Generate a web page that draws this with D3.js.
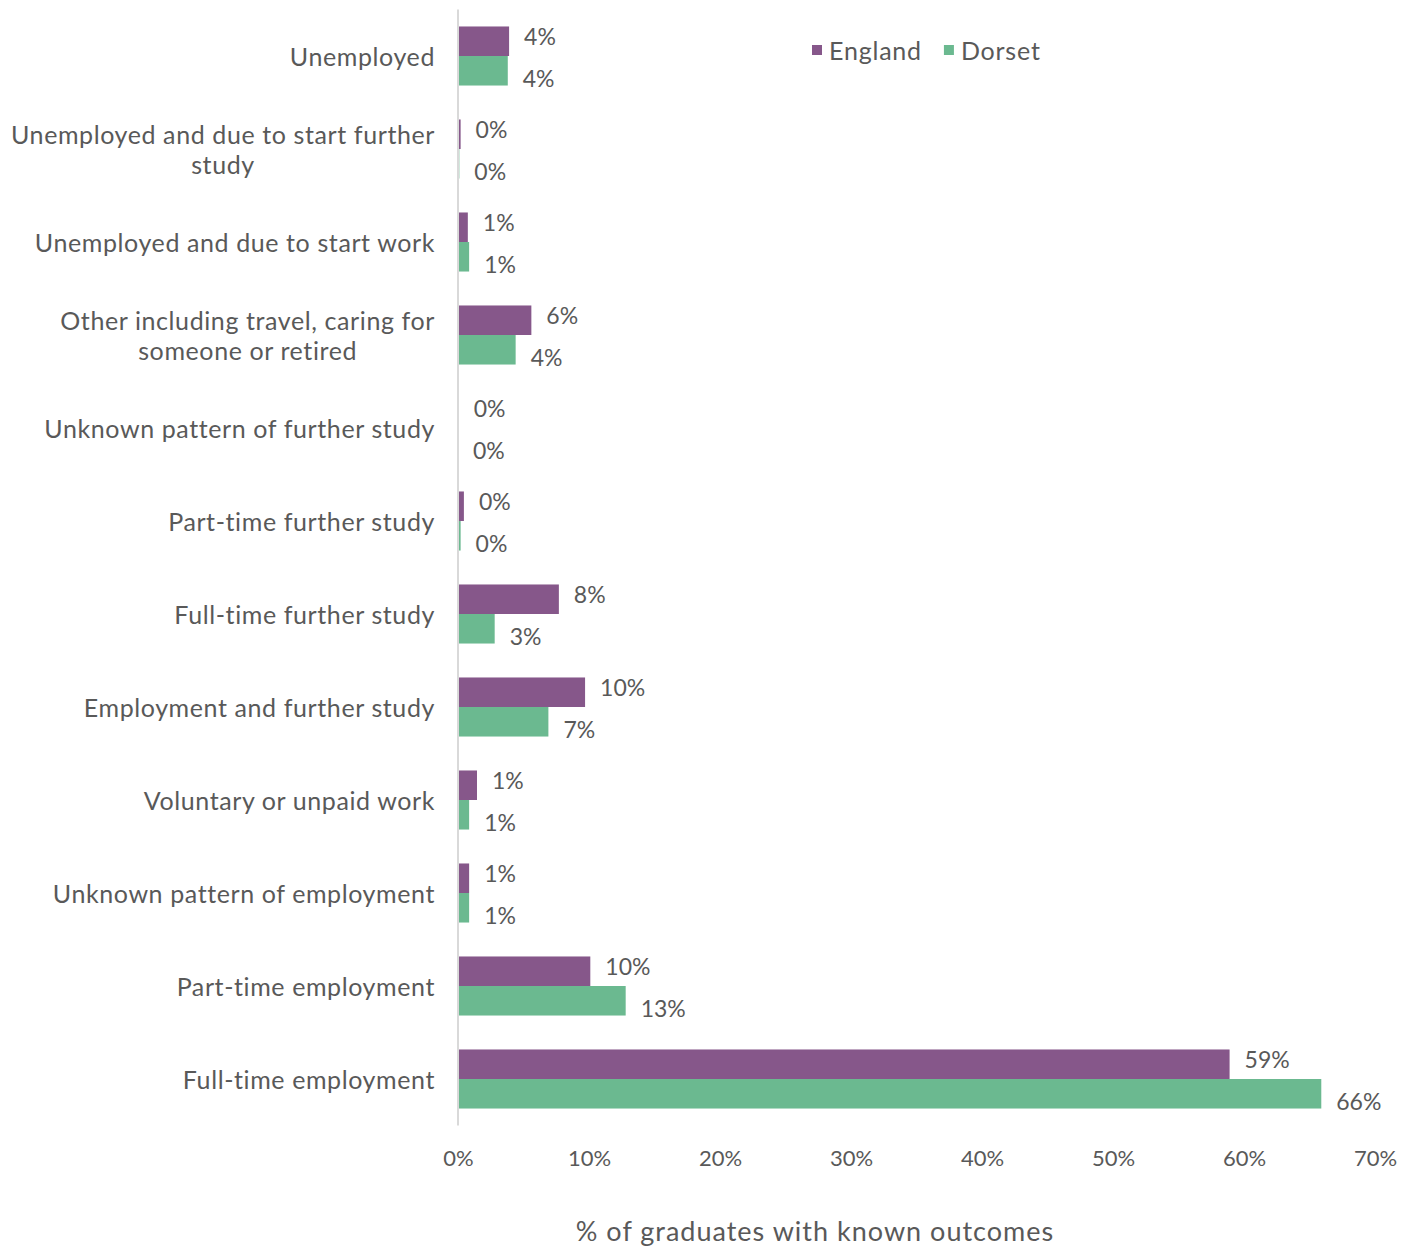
<!DOCTYPE html>
<html>
<head>
<meta charset="utf-8">
<script src="https://cdn.jsdelivr.net/npm/d3@7"></script>
<style>
  html, body { margin: 0; padding: 0; background: #fff; }
  svg text { font-family: "Lato", "DejaVu Sans", sans-serif; fill: #595959; }
</style>
</head>
<body>
<svg id="chart" width="1418" height="1248"></svg>
<script>
// Graduate destinations, % of graduates with known outcomes
const categories = [
  ["Unemployed"],
  ["Unemployed and due to start further", "study"],
  ["Unemployed and due to start work"],
  ["Other including travel, caring for", "someone or retired"],
  ["Unknown pattern of further study"],
  ["Part-time further study"],
  ["Full-time further study"],
  ["Employment and further study"],
  ["Voluntary or unpaid work"],
  ["Unknown pattern of employment"],
  ["Part-time employment"],
  ["Full-time employment"]
];
const seriesNames = ["England", "Dorset"];
const england = [3.9, 0.2, 0.75, 5.6, 0.05, 0.45, 7.7, 9.7, 1.45, 0.85, 10.1, 58.9];
const dorset  = [3.8, 0.1, 0.85, 4.4, 0.0, 0.2, 2.8, 6.9, 0.85, 0.85, 12.8, 65.9];
const xTicks = [0, 10, 20, 30, 40, 50, 60, 70];
const axisTitle = "% of graduates with known outcomes";

const colors = { England: "#86578A", Dorset: "#6BB990" };
const svg = d3.select("#chart");

const x = d3.scaleLinear().domain([0, 70]).range([458, 1375]);
const keys = categories.map((c, i) => i);
const y = d3.scaleBand().domain(keys).range([9.5, 1125.5])
  .paddingInner(0.365).paddingOuter(0.1825);
const ySub = d3.scaleBand().domain(seriesNames).range([0, y.bandwidth()]);

const rows = keys.map(i => ({ i, England: england[i], Dorset: dorset[i] }));

// bars
const groups = svg.append("g").selectAll("g").data(rows).join("g")
  .attr("transform", d => `translate(0,${y(d.i)})`);

groups.selectAll("rect").data(d => seriesNames.map(s => ({ s, v: d[s] })))
  .join("rect")
  .attr("x", x(0))
  .attr("y", d => ySub(d.s))
  .attr("width", d => x(d.v) - x(0))
  .attr("height", ySub.bandwidth())
  .attr("fill", d => colors[d.s]);

// value labels
const labelOffset = { England: -5, Dorset: 7 };
groups.selectAll("text.val").data(d => seriesNames.map(s => ({ s, v: d[s] })))
  .join("text")
  .attr("class", "val")
  .attr("x", d => x(d.v) + 15)
  .attr("y", d => ySub(d.s) + ySub.bandwidth() / 2 + labelOffset[d.s])
  .attr("dominant-baseline", "central")
  .style("font-size", "23px")
  .text(d => Math.round(d.v) + "%");

// vertical category axis line
svg.append("line")
  .attr("x1", x(0)).attr("x2", x(0))
  .attr("y1", 9.5).attr("y2", 1125.5)
  .attr("stroke", "#d9d9d9").attr("stroke-width", 2);

// category labels (multi-line, centred lines, right-aligned block)
const catG = svg.append("g");
rows.forEach(d => {
  const lines = categories[d.i];
  const cy = y(d.i) + y.bandwidth() / 2;
  const lineH = 30;
  const g = catG.append("g");
  const texts = lines.map((t, k) => g.append("text")
    .attr("y", cy + (k - (lines.length - 1) / 2) * lineH)
    .attr("dominant-baseline", "central")
    .attr("text-anchor", "middle")
    .style("font-size", "25px")
    .style("letter-spacing", "0.6px")
    .text(t));
  const maxW = d3.max(texts, t => t.node().getComputedTextLength());
  texts.forEach(t => t.attr("x", 435 - maxW / 2));
});

// x axis tick labels
const xAxis = d3.axisBottom(x).tickValues(xTicks).tickSize(0).tickPadding(0)
  .tickFormat(d => d + "%");
const xg = svg.append("g").attr("transform", "translate(0,1157)").call(xAxis);
xg.select(".domain").remove();
xg.selectAll("text")
  .attr("dy", null)
  .attr("dominant-baseline", "central")
  .style("font-size", "22px")
  .style("font-family", null)
  .attr("fill", null);

// axis title
svg.append("text")
  .attr("x", 815).attr("y", 1230)
  .attr("text-anchor", "middle")
  .attr("dominant-baseline", "central")
  .style("font-size", "27px")
  .style("letter-spacing", "1px")
  .text(axisTitle);

// legend
const legend = svg.append("g").attr("transform", "translate(812,50)");
let lx = 0;
seriesNames.forEach(s => {
  const g = legend.append("g").attr("transform", `translate(${lx},0)`);
  g.append("rect").attr("x", 0).attr("y", -5).attr("width", 10).attr("height", 10)
    .attr("fill", colors[s]);
  const t = g.append("text").attr("x", 17).attr("y", 0)
    .attr("dominant-baseline", "central")
    .style("font-size", "25px")
    .style("letter-spacing", "0.8px")
    .text(s);
  lx += 17 + t.node().getComputedTextLength() + 22;
});
</script>
</body>
</html>
